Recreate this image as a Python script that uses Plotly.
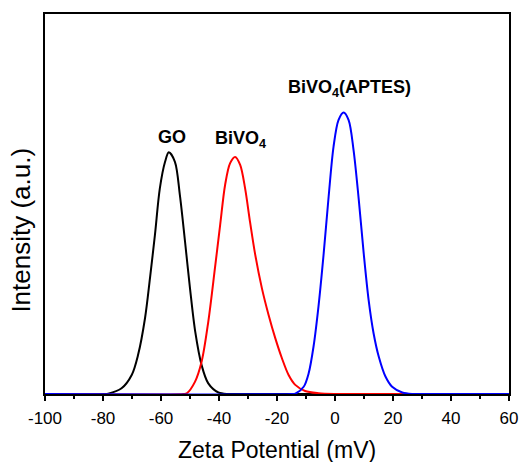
import plotly.graph_objects as go

# GO curve
go_x = [-100, -79.5, -78.2, -73.6, -70.1, -67.9, -65.5, -63.8, -62.1, -60.4, -58.6, -57.3,
        -55.2, -53.5, -51.7, -50.0, -48.2, -46.0, -43.7, -40.2, -37, -36, 60]
go_y = [0, 0, 0.001, 0.015, 0.05, 0.103, 0.2, 0.305, 0.418, 0.541, 0.611, 0.636,
        0.611, 0.524, 0.40, 0.278, 0.164, 0.076, 0.028, 0.004, 0, 0, 0]

# BiVO4 curve
bv_x = [-100, -52.3, -51.1, -48.3, -46.0, -43.7, -41.4, -39.6, -37.9, -36.2, -34.45,
        -32.7, -31.0, -29.3, -27.5, -25.2, -22.9, -20.6, -18.3, -16.0, -13.7,
        -10.3, -5.7, 0, 1, 25, 60]
bv_y = [0, 0, 0.002, 0.032, 0.085, 0.19, 0.331, 0.445, 0.55, 0.607, 0.624,
        0.603, 0.541, 0.453, 0.366, 0.278, 0.208, 0.147, 0.094, 0.05, 0.024,
        0.008, 0.002, 0, 0, 0, 0]

# BiVO4(APTES) curve
ap_x = [-100, -15, -13.7, -10.8, -9.1, -7.4, -5.7, -3.9, -2.2, -0.5, 1.2, 2.97,
        4.7, 6.4, 8.2, 9.9, 11.6, 13.3, 15.1, 17.4, 19.7, 23.2, 26.6, 27.6, 60]
ap_y = [0, 0, 0.001, 0.019, 0.054, 0.125, 0.23, 0.37, 0.519, 0.651, 0.721, 0.741,
        0.721, 0.642, 0.511, 0.37, 0.247, 0.16, 0.098, 0.046, 0.019, 0.004, 0, 0, 0]

x_ticks = [-100, -80, -60, -40, -20, 0, 20, 40, 60]

labels = ["<b>GO</b>", "<b>BiVO<sub>4</sub></b>", "<b>BiVO<sub>4</sub>(APTES)</b>"]
label_x = [-56.3, -32.6, 4.9]
label_y = [0.676, 0.671, 0.803]

FONT = "Liberation Sans, Arial, sans-serif"

fig = go.Figure()
for xs, ys, col in [(go_x, go_y, "black"), (bv_x, bv_y, "red"), (ap_x, ap_y, "blue")]:
    fig.add_trace(go.Scatter(x=xs, y=ys, mode="lines",
                             line=dict(color=col, width=2, shape="spline", smoothing=0.9)))

ann_font = dict(family=FONT, size=18, color="black")
for t, ax_, ay_ in zip(labels, label_x, label_y):
    fig.add_annotation(x=ax_, y=ay_, text=t, showarrow=False, font=ann_font,
                       xanchor="center", yanchor="middle")

# axis titles
fig.add_annotation(x=0.5, y=0, xref="paper", yref="paper", yshift=-56,
                   text="Zeta Potential (mV)", showarrow=False,
                   font=dict(family=FONT, size=23, color="black"),
                   xanchor="center", yanchor="middle")
fig.add_annotation(x=0, y=0.43, xref="paper", yref="paper", xshift=-24,
                   text="Intensity (a.u.)", textangle=-90, showarrow=False,
                   font=dict(family=FONT, size=26, color="black"),
                   xanchor="center", yanchor="middle")

fig.update_layout(
    width=520, height=462,
    margin=dict(l=45, r=11, t=14, b=68),
    paper_bgcolor="white", plot_bgcolor="white",
    showlegend=False,
    font=dict(family=FONT, color="black"),
    xaxis=dict(
        range=[-100, 60], tickvals=x_ticks, ticktext=[str(v) for v in x_ticks],
        ticks="outside", ticklen=5, tickwidth=1.5, tickcolor="black",
        minor=dict(dtick=10, tick0=0, ticks="outside", ticklen=3, tickwidth=1.5, tickcolor="black"),
        showline=True, linecolor="black", linewidth=1.5, mirror=True,
        showgrid=False, zeroline=False, automargin=False, ticklabelstandoff=3,
        tickfont=dict(family=FONT, size=17, color="black"),
    ),
    yaxis=dict(
        range=[0, 1], showticklabels=False, ticks="",
        showline=True, linecolor="black", linewidth=1.5, mirror=True,
        showgrid=False, zeroline=False, automargin=False,
    ),
)

fig.write_html("out.html")
